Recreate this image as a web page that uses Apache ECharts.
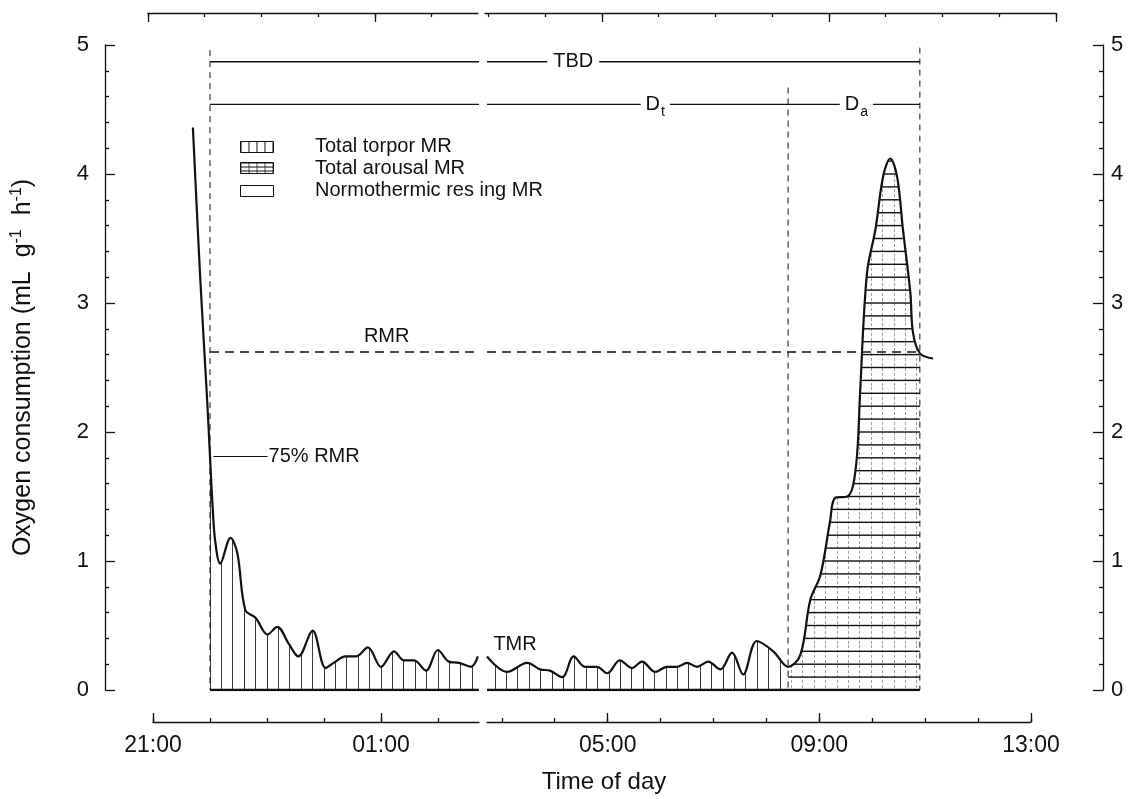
<!DOCTYPE html>
<html>
<head>
<meta charset="utf-8">
<title>Oxygen consumption during a torpor bout</title>
<script src="https://cdn.jsdelivr.net/npm/echarts@6/dist/echarts.min.js"></script>
<style>
  html, body { margin: 0; padding: 0; background: #fff; }
  #chart { width: 1139px; height: 799px; }
</style>
</head>
<body>
<div id="chart"></div>
<script>
// Time is counted in hours after 21:00. The record is drawn in two panels
// that meet at SPLIT (about 02:43); the right panel uses a slightly tighter scale.
const leftTime = [0.70, 0.83, 0.95, 1.00, 1.04, 1.09, 1.18, 1.36, 1.48, 1.62,
                  1.80, 2.01, 2.18, 2.38, 2.55, 2.80, 3.03, 3.17, 3.38, 3.56,
                  3.77, 4.00, 4.23, 4.40, 4.58, 4.79, 5.00, 5.19, 5.37, 5.58, 5.70];
const leftVO2  = [4.36, 3.18, 2.25, 1.81, 1.47, 1.16, 0.98, 1.18, 1.06, 0.62,
                  0.56, 0.43, 0.49, 0.36, 0.26, 0.46, 0.17, 0.21, 0.26, 0.26,
                  0.33, 0.18, 0.30, 0.23, 0.23, 0.15, 0.31, 0.22, 0.21, 0.18, 0.26];
const rightTime = [5.72, 6.10, 6.48, 6.72, 6.91, 7.14, 7.36, 7.57, 7.80, 7.99,
                   8.23, 8.46, 8.65, 8.90, 9.12, 9.31, 9.50, 9.69, 9.90, 10.13,
                   10.35, 10.56, 10.82, 11.13, 11.41, 11.64, 11.83, 12.02, 12.20, 12.30,
                   12.53, 12.64, 12.72, 12.77, 12.90, 13.06, 13.21, 13.34, 13.47, 13.58,
                   13.72, 13.77, 13.90, 14.15];
const rightVO2  = [0.26, 0.14, 0.21, 0.16, 0.15, 0.10, 0.26, 0.18, 0.18, 0.13,
                   0.23, 0.17, 0.22, 0.14, 0.18, 0.18, 0.21, 0.18, 0.22, 0.16,
                   0.29, 0.12, 0.38, 0.30, 0.18, 0.27, 0.70, 0.89, 1.30, 1.49,
                   1.50, 1.59, 1.86, 2.30, 3.23, 3.57, 3.99, 4.12, 3.98, 3.57,
                   3.08, 2.77, 2.61, 2.57];

// Bout boundaries and reference levels (hours after 21:00 / mL g-1 h-1)
const SPLIT = 5.72;
const torporStart = 1.00;
const arousalStart = 11.41;
const arousalEnd = 13.90;
const rmrLevel = 2.62;
const pointerLevel = 1.81;          // "75% RMR" pointer
const pointerSpan = [1.06, 2.01];
const tbdLevel = 4.87;
const periodLevel = 4.54;           // D_t / D_a bar
const dashTop = [4.96, 4.67, 4.98]; // tops of the three dashed boundaries
const labelSpots = { rmr: 4.10, tbd: 7.35, dt: 8.90, da: 12.70, tmr: [6.25, 0.35] };

// Tick labels
const yTicks = [0, 1, 2, 3, 4, 5];
const bottomLabelsLeft = [0, 4];        // 21:00, 01:00
const bottomLabelsRight = [8, 12, 16];  // 05:00, 09:00, 13:00
const topLeftRange = [0, 5.815];
const topRightRange = [5.94, 16];

const INK = '#111';
const FONT = '"Liberation Sans", Arial, Helvetica, sans-serif';

function makePattern(w, h, draw) {
  const c = document.createElement('canvas');
  c.width = w; c.height = h;
  draw(c.getContext('2d'), w, h);
  return { image: c, repeat: 'repeat' };
}
// vertical hatching (torpor)
const torporFill = makePattern(57, 8, (ctx, w, h) => {
  ctx.fillStyle = '#3c3c3c';
  for (let k = 0; k < 5; k++) ctx.fillRect(Math.round((50 + 11.4 * k) % 57), 0, 1, h);
});
// horizontal rules every 0.1 unit with faint dotted verticals (arousal)
const arousalFill = makePattern(57, 129, (ctx, w, h) => {
  ctx.fillStyle = '#a0a0a0';
  for (let k = 0; k < 5; k++) {
    const x = Math.round((50 + 11.4 * k) % 57);
    for (let y = 0; y < h; y += 5) ctx.fillRect(x, y, 1, 3);
  }
  ctx.fillStyle = INK;
  for (let k = 0; k < 10; k++) {
    const y = (((45 - 12.9 * k) % 129) + 129) % 129;
    ctx.fillRect(0, y - 0.7, w, 1.4);
  }
});
const legendTorpor = makePattern(8, 2, (ctx, w, h) => {
  ctx.fillStyle = INK; ctx.fillRect(0, 0, 1, h);
});
const legendArousal = makePattern(8, 4, (ctx, w, h) => {
  ctx.fillStyle = '#555'; ctx.fillRect(0, 0, 1, h);
  ctx.fillStyle = INK; ctx.fillRect(0, 0, w, 1);
});

const pairs = (ts, vs) => ts.map((t, i) => [t, vs[i]]);
const leftData = pairs(leftTime, leftVO2);
const rightData = pairs(rightTime, rightVO2);
const within = (d, a, b) => d.filter(p => p[0] >= a - 1e-9 && p[0] <= b + 1e-9);
const hours = (a, b) => { const r = []; for (let h = Math.ceil(a); h <= b + 1e-9; h++) r.push(h); return r; };
const clock = v => { const h = Math.round(21 + v) % 24; return (h < 10 ? '0' : '') + h + ':00'; };

const lineCol = { color: INK, width: 1.3 };
const noSplit = { show: false };

function timeAxis(grid, range, pos, offset, ticks, tickLen, labels, drawLine) {
  return {
    type: 'value', gridIndex: grid, min: range[0], max: range[1], position: pos, offset: offset,
    axisLine: { show: drawLine, onZero: false, lineStyle: lineCol },
    axisTick: { show: true, inside: true, length: tickLen, customValues: ticks, lineStyle: lineCol },
    axisLabel: labels ? { show: true, customValues: labels, formatter: clock, margin: 12,
                          fontSize: 23, fontFamily: FONT, color: INK }
                      : { show: false },
    splitLine: noSplit
  };
}

const xAxis = [
  { type: 'value', gridIndex: 0, min: 0, max: 1, show: true,
    axisLine: { show: false }, axisTick: { show: false }, axisLabel: { show: false }, splitLine: noSplit,
    name: 'Time of day', nameLocation: 'middle', nameGap: 80,
    nameTextStyle: { fontSize: 24, fontFamily: FONT, color: INK } },
  // bottom axis: hourly ticks with the line, then longer 4-hour ticks on top
  timeAxis(1, [0, SPLIT], 'bottom', 32, hours(0, SPLIT), 4, bottomLabelsLeft, true),
  timeAxis(1, [0, SPLIT], 'bottom', 32, bottomLabelsLeft, 9, null, false),
  timeAxis(2, [SPLIT, 16], 'bottom', 32, hours(SPLIT, 16), 4, bottomLabelsRight, true),
  timeAxis(2, [SPLIT, 16], 'bottom', 32, bottomLabelsRight, 9, null, false),
  // top axis
  timeAxis(3, topLeftRange, 'top', 0, hours(topLeftRange[0], topLeftRange[1]), 4, null, true),
  timeAxis(3, topLeftRange, 'top', 0, [0, 4], 9, null, false),
  timeAxis(4, topRightRange, 'top', 0, hours(topRightRange[0], topRightRange[1]), 4, null, true),
  timeAxis(4, topRightRange, 'top', 0, [8, 12, 16], 9, null, false)
];

function valueAxis(pos, withName) {
  const ax = {
    type: 'value', gridIndex: 0, min: yTicks[0], max: yTicks[yTicks.length - 1], interval: 1, position: pos,
    axisLine: { show: true, onZero: false, lineStyle: lineCol },
    axisTick: { show: true, inside: true, length: 10, lineStyle: lineCol },
    minorTick: { show: true, splitNumber: 5, length: 4, lineStyle: lineCol },
    axisLabel: { fontSize: 22, fontFamily: FONT, color: INK, margin: pos === 'left' ? 16 : 8 },
    splitLine: noSplit, minorSplitLine: noSplit
  };
  if (withName) {
    Object.assign(ax, {
      name: 'Oxygen consumption (mL  g{s|-1}  h{s|-1})', nameLocation: 'middle', nameGap: 67,
      nameTextStyle: { fontSize: 25, fontFamily: FONT, color: INK, lineHeight: 29,
        rich: { s: { fontSize: 16, fontFamily: FONT, color: INK, lineHeight: 16, verticalAlign: 'top' } } }
    });
  }
  return ax;
}
const hiddenY = g => ({ type: 'value', gridIndex: g, min: 0, max: 5, show: false, splitLine: noSplit });
const yAxis = [valueAxis('left', true), valueAxis('right', false), hiddenY(1), hiddenY(2), hiddenY(3), hiddenY(4)];

function seg(xi, yi, data, style, extra) {
  return Object.assign({ type: 'line', xAxisIndex: xi, yAxisIndex: yi, data: data, symbol: 'none',
    silent: true, animation: false, lineStyle: style, z: 4 }, extra || {});
}
const dashed = (w, d) => ({ color: INK, width: w, type: d });
const solid = w => ({ color: INK, width: w });

const textStyle = { fontSize: 20, fontFamily: FONT, color: INK, opacity: 1,
                    textBorderWidth: 0, textShadowBlur: 0 };
function labels(xi, yi, items) {
  return { type: 'scatter', xAxisIndex: xi, yAxisIndex: yi, symbolSize: 0.01, silent: true, animation: false, z: 8,
    itemStyle: { color: '#fff', opacity: 1 },
    emphasis: { disabled: true },
    label: Object.assign({ show: true, position: 'inside', formatter: p => p.data.text }, textStyle),
    data: items };
}
const subRich = {
  d: { fontSize: 20, fontFamily: FONT, color: INK, lineHeight: 30 },
  s: { fontSize: 14, fontFamily: FONT, color: INK, lineHeight: 14, verticalAlign: 'bottom', padding: [0, 0, 0, 1] }
};

const series = [
  // left panel
  seg(1, 2, within(leftData, torporStart, SPLIT), { width: 0 }, { smooth: 0.35, areaStyle: { color: torporFill, opacity: 1 }, z: 2 }),
  seg(1, 2, [[torporStart, 0], [SPLIT, 0]], solid(2.4), { z: 5 }),
  seg(1, 2, [[torporStart, dashTop[0]], [torporStart, 0]], dashed(1, [6, 5])),
  seg(1, 2, [[torporStart, rmrLevel], [SPLIT, rmrLevel]], dashed(1.3, [9, 6])),
  seg(1, 2, [[torporStart, tbdLevel], [SPLIT, tbdLevel]], solid(1.3)),
  seg(1, 2, [[torporStart, periodLevel], [SPLIT, periodLevel]], solid(1.3)),
  seg(1, 2, [[pointerSpan[0], pointerLevel], [pointerSpan[1], pointerLevel]], solid(1)),
  seg(1, 2, leftData, solid(2.2), { smooth: 0.35, z: 6 }),
  labels(1, 2, [
    { value: [labelSpots.rmr, rmrLevel], text: 'RMR', label: { position: 'top', distance: 6 } },
    { value: [pointerSpan[1], pointerLevel], text: '75% RMR', label: { position: 'right', distance: 1 } }
  ]),
  // right panel
  seg(3, 3, within(rightData, SPLIT, arousalStart), { width: 0 }, { smooth: 0.35, areaStyle: { color: torporFill, opacity: 1 }, z: 2 }),
  seg(3, 3, within(rightData, arousalStart, arousalEnd), { width: 0 }, { smooth: 0.35, areaStyle: { color: arousalFill, opacity: 1 }, z: 2 }),
  seg(3, 3, [[SPLIT, 0], [arousalEnd, 0]], solid(2.4), { z: 5 }),
  seg(3, 3, [[arousalStart, dashTop[1]], [arousalStart, 0]], dashed(1, [6, 5])),
  seg(3, 3, [[arousalEnd, dashTop[2]], [arousalEnd, 0]], dashed(1, [6, 5])),
  seg(3, 3, [[SPLIT, rmrLevel], [arousalEnd, rmrLevel]], dashed(1.3, [9, 6])),
  seg(3, 3, [[SPLIT, tbdLevel], [arousalEnd, tbdLevel]], solid(1.3)),
  seg(3, 3, [[SPLIT, periodLevel], [arousalEnd, periodLevel]], solid(1.3)),
  seg(3, 3, rightData, solid(2.2), { smooth: 0.35, z: 6 }),
  labels(3, 3, [
    { value: [labelSpots.tbd, tbdLevel], text: 'TBD', label: { backgroundColor: '#fff', padding: [0, 6] } },
    { value: [labelSpots.dt, periodLevel], text: '{d|D}{s|t}', label: { backgroundColor: '#fff', padding: [0, 5], rich: subRich } },
    { value: [labelSpots.da, periodLevel], text: '{d|D}{s|a}', label: { backgroundColor: '#fff', padding: [0, 5], rich: subRich } },
    { value: labelSpots.tmr, text: 'TMR' }
  ])
];

const legendRows = [
  { name: 'Total torpor MR', fill: legendTorpor, boxTop: 141, textTop: 136 },
  { name: 'Total arousal MR', fill: legendArousal, boxTop: 162, textTop: 158 },
  { name: 'Normothermic res ing MR', fill: '#fff', boxTop: 185, textTop: 180 }
];
const graphic = [];
legendRows.forEach(r => {
  graphic.push({ type: 'rect', left: 240, top: r.boxTop, silent: true,
    shape: { x: 0, y: 0, width: 33, height: 11 }, style: { fill: r.fill, stroke: INK, lineWidth: 1 } });
  graphic.push({ type: 'text', left: 315, top: r.textTop, silent: true,
    style: { text: r.name, fontSize: 20, fontFamily: FONT, fill: INK } });
});

const gridBase = { containLabel: false, outerBoundsMode: 'none', show: false };
const chart = echarts.init(document.getElementById('chart'), null, { renderer: 'canvas' });
chart.setOption({
  backgroundColor: '#fff',
  animation: false,
  grid: [
    Object.assign({ left: 105, top: 45, width: 998, height: 645 }, gridBase),
    Object.assign({ left: 153, top: 45, width: 326, height: 645 }, gridBase),
    Object.assign({ left: 487, top: 45, width: 544, height: 645 }, gridBase),
    Object.assign({ left: 148, top: 13, width: 330, height: 20 }, gridBase),
    Object.assign({ left: 485, top: 13, width: 571, height: 20 }, gridBase)
  ],
  xAxis: xAxis,
  yAxis: yAxis,
  series: series,
  graphic: graphic
});
</script>
</body>
</html>
